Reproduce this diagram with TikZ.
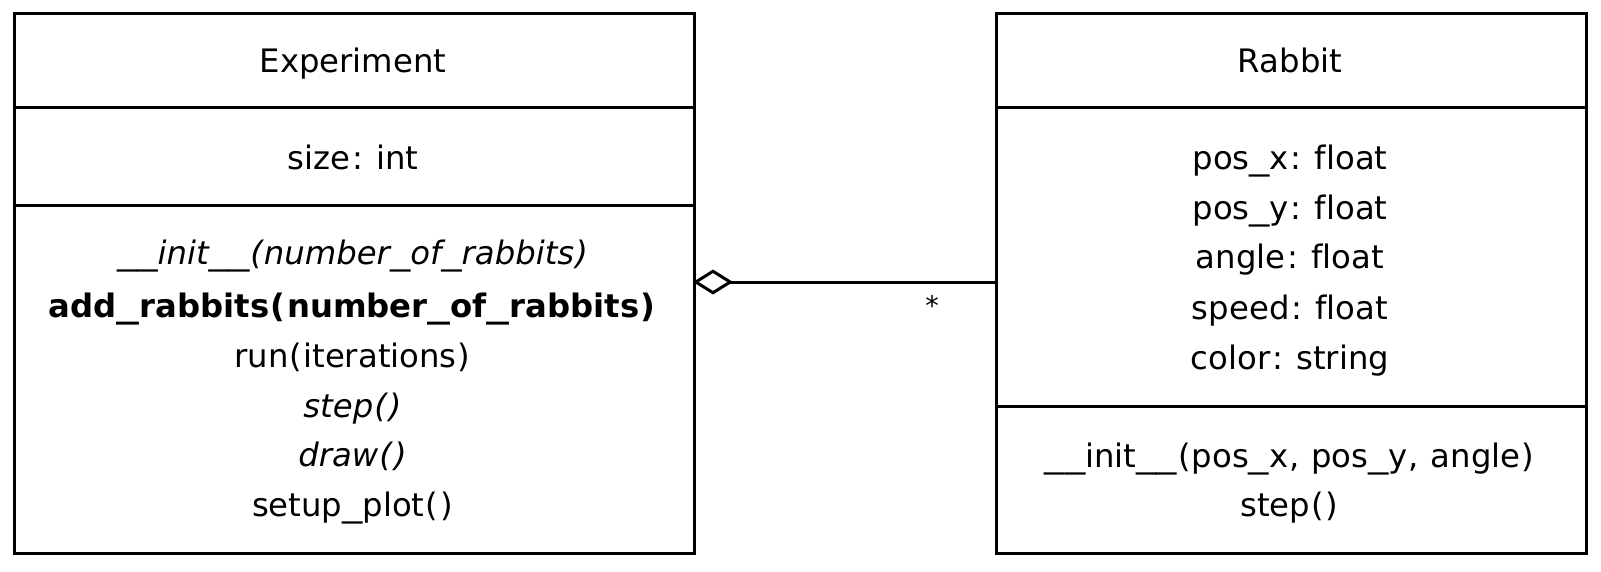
\documentclass[tikz,border=0pt]{standalone}
\usepackage{fontspec}
\setmainfont{DejaVu Sans}[WordSpace=1.1,Ligatures=NoCommon]
\usetikzlibrary{arrows.meta}
\newcommand{\us}{\makebox[0.628em][c]{\scalebox{1.256}[1]{\_}}}
\newcommand{\lp}{\makebox[0.454em][c]{(}}
\newcommand{\rp}{\makebox[0.454em][c]{)}}
\newcommand{\cl}{\makebox[0.454em][c]{:}}
\newcommand{\cm}{\makebox[0.364em][c]{,}}
\newcommand{\usb}{\makebox[0.71em][c]{\scalebox{1.42}[1]{\_}}}
\newcommand{\lpb}{\makebox[0.543em][c]{(}}
\newcommand{\rpb}{\makebox[0.543em][c]{)}}
\begin{document}
\begin{tikzpicture}[x=1pt,y=-1pt,
  classbox/.style={draw,line width=3pt,rectangle,inner sep=0pt,anchor=north west},
  divider/.style={line width=3pt},
  txt/.style={anchor=base,inner sep=0pt,font=\fontsize{32.3}{38}\selectfont},
  conn/.style={line width=3pt,shorten <=-3pt,{Diamond[open,length=40pt,width=25pt,line join=miter]}-}]
\useasboundingbox (0,0) rectangle (1601,572);
% boxes
\node[classbox,minimum width=680pt,minimum height=540pt] (exp) at (13,12) {};
\node[classbox,minimum width=590pt,minimum height=540pt] (rab) at (995,12) {};
% dividers
\draw[divider] (exp.west |- 0,108) -- (exp.east |- 0,108);
\draw[divider] (exp.west |- 0,205.5) -- (exp.east |- 0,205.5);
\draw[divider] (rab.west |- 0,108) -- (rab.east |- 0,108);
\draw[divider] (rab.west |- 0,406) -- (rab.east |- 0,406);
% Experiment texts
\node[txt] (e0) at (353,73) {Experiment};
\node[txt] (e1) at (353,170) {size\cl\ int};
\node[txt] (m1) at (353,265) {\itshape \us\us init\us\us\lp number\us of\us rabbits\rp};
\node[txt] (m2) at (353,317) {\bfseries add\usb rabbits\lpb number\usb of\usb rabbits\rpb};
\node[txt] (m3) at (353,367) {run\lp iterations\rp};
\node[txt] (m4) at (353,417) {\itshape step\lp\rp};
\node[txt] (m5) at (353,466.5) {\itshape draw\lp\rp};
\node[txt] (m6) at (353,516.5) {setup\us plot\lp\rp};
% Rabbit texts
\node[txt] (r0) at (1290,73) {Rabbit};
\node[txt] (a1) at (1290,170) {pos\us x\cl\ float};
\node[txt] (a2) at (1290,220) {pos\us y\cl\ float};
\node[txt] (a3) at (1290,269) {angle\cl\ float};
\node[txt] (a4) at (1290,319) {speed\cl\ float};
\node[txt] (a5) at (1290,369) {color\cl\ string};
\node[txt] (n1) at (1290,467.5) {\us\us init\us\us\lp pos\us x\cm\ pos\us y\cm\ angle\rp};
\node[txt] (n2) at (1290,516.5) {step\lp\rp};
% connector
\coordinate (ca) at (exp.east |- 0,282);
\coordinate (cb) at (rab.west |- 0,282);
\draw[conn] (ca) -- (cb);
\node[txt,font=\fontsize{27}{30}\selectfont] (mult) at (932,315) {*};
\end{tikzpicture}
\end{document}
